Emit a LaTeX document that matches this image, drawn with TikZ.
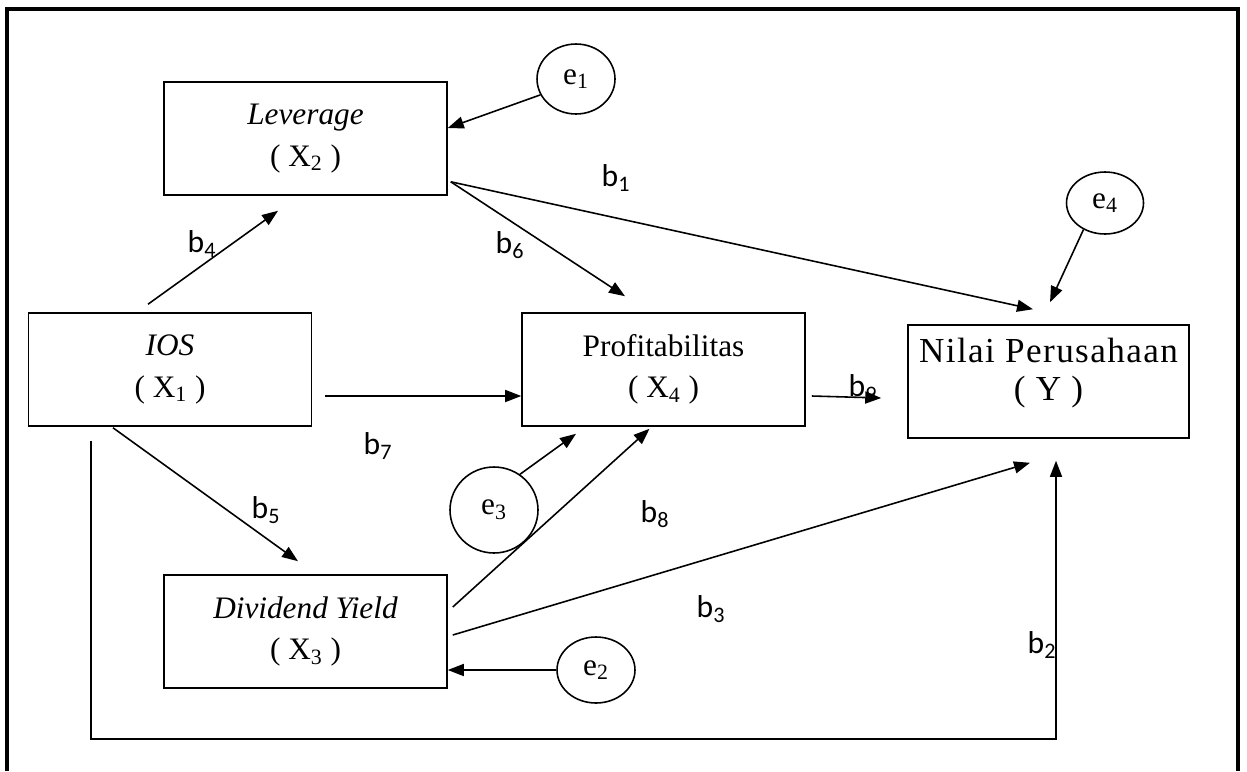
\documentclass[tikz,border=0pt]{standalone}
\usepackage{fontspec}
\setmainfont{Liberation Serif}
\newfontfamily\coeffamily{Carlito}
\usepackage{tikz}
\usetikzlibrary{arrows.meta,positioning,shapes.geometric}
\tikzset{
    every picture/.style={line join=miter},
    varbox/.style={draw,line width=0.9pt,minimum width=5.66cm,minimum height=2.26cm,
      inner sep=0pt,align=center,font=\fontsize{17.8}{23.5}\selectfont},
    errnode/.style={draw,ellipse,line width=0.9pt,inner sep=0pt,
      font=\fontsize{17.8}{21}\selectfont},
    flowarrow/.style={->,line width=0.9pt},
    coef/.style={inner sep=0pt,font=\coeffamily\fontsize{18}{20}\selectfont},
    frameline/.style={line width=1.8pt}
}

\begin{document}
\begin{tikzpicture}[x=0.02cm,y=0.02cm,>={Triangle[length=3.2mm,width=2.4mm]}]
  \useasboundingbox (0,0) rectangle (1247,-771);
  \draw[frameline] (7,-771) -- (7,-9) -- (1238,-9) -- (1238,-771);

  % variables
  \node[varbox] (lev) at (305.5,-138.5) {\textit{Leverage}\\( X\textsubscript{2} )};
  \node[varbox] (ios) at (170,-369.5) {\textit{IOS}\\( X\textsubscript{1} )};
  \node[varbox] (prof) at (663.5,-369.5) {Profitabilitas\\( X\textsubscript{4} )};
  \node[varbox,minimum width=5.62cm,
    font=\fontsize{20}{22}\selectfont\addfontfeature{LetterSpace=4}] (nilai) at (1048.5,-381.5)
    {Nilai Perusahaan\\( Y )\\[-8pt]\mbox{}};
  \node[varbox] (div) at (305.5,-631.5) {\textit{Dividend Yield}\\( X\textsubscript{3} )};

  % error terms
  \node[errnode,minimum width=1.56cm,minimum height=1.4cm] (e1) at (576,-79) {e\textsubscript{1}};
  \node[errnode,minimum width=1.54cm,minimum height=1.24cm] (e4) at (1105,-203) {e\textsubscript{4}};
  \node[errnode,minimum width=1.76cm,minimum height=1.72cm] (e3) at (494,-510) {e\textsubscript{3}};
  \node[errnode,minimum width=1.56cm,minimum height=1.32cm] (e2) at (596,-670) {e\textsubscript{2}};

  % paths
  \draw[flowarrow] ([shift={(-22,8)}]ios.north) -- ([shift={(-27.5,-15)}]lev.south);
  \draw[flowarrow] (e1.204) -- ([shift={(0,10.5)}]lev.east);
  \draw[flowarrow] ([shift={(3,14)}]lev.south east) -- ([shift={(-38.5,16)}]prof.north);
  \draw[flowarrow] ([shift={(3,14)}]lev.south east) -- ([shift={(-15.5,15)}]nilai.north);
  \draw[flowarrow] (e4.231) -- ([shift={(1.5,22)}]nilai.north);
  \draw[flowarrow] ([shift={(13,-26.5)}]ios.east) -- ([shift={(0,-26.5)}]prof.west);
  \draw[flowarrow] ([shift={(6,-26.5)}]prof.east) -- ([shift={(-26,-16.5)}]nilai.west);
  \draw[flowarrow] (e3.54) -- ([shift={(-87.5,-7)}]prof.south);
  \draw[flowarrow] ([shift={(5,24.5)}]div.east) -- ([shift={(-14,-2)}]prof.south);
  \draw[flowarrow] ([shift={(5,-3.5)}]div.east) -- ([shift={(-18.5,-24)}]nilai.south);
  \draw[flowarrow] (e2.west) -- (div.east |- e2.west);
  \draw[flowarrow] ([shift={(-57,-1)}]ios.south) -- ([shift={(-7.5,13)}]div.north);
  \coordinate (b2start) at ([shift={(-79,-14)}]ios.south);
  \coordinate (b2end) at ([shift={(7.5,-22)}]nilai.south);
  \coordinate (low) at (0,-739);
  \draw[flowarrow] (b2start) -- (b2start |- low) -| (b2end);

  % coefficients
  \node[coef] (lb1) at (616,-178) {b\textsubscript{1}};
  \node[coef] (lb2) at (1042,-645) {b\textsubscript{2}};
  \node[coef] (lb3) at (711,-609) {b\textsubscript{3}};
  \node[coef] (lb4) at (202,-244) {b\textsubscript{4}};
  \node[coef] (lb5) at (266,-510) {b\textsubscript{5}};
  \node[coef] (lb6) at (510,-245) {b\textsubscript{6}};
  \node[coef] (lb7) at (378,-446) {b\textsubscript{7}};
  \node[coef] (lb8) at (655,-514) {b\textsubscript{8}};
  \node[coef] (lb9) at (863,-388) {b\textsubscript{9}};
\end{tikzpicture}
\end{document}
